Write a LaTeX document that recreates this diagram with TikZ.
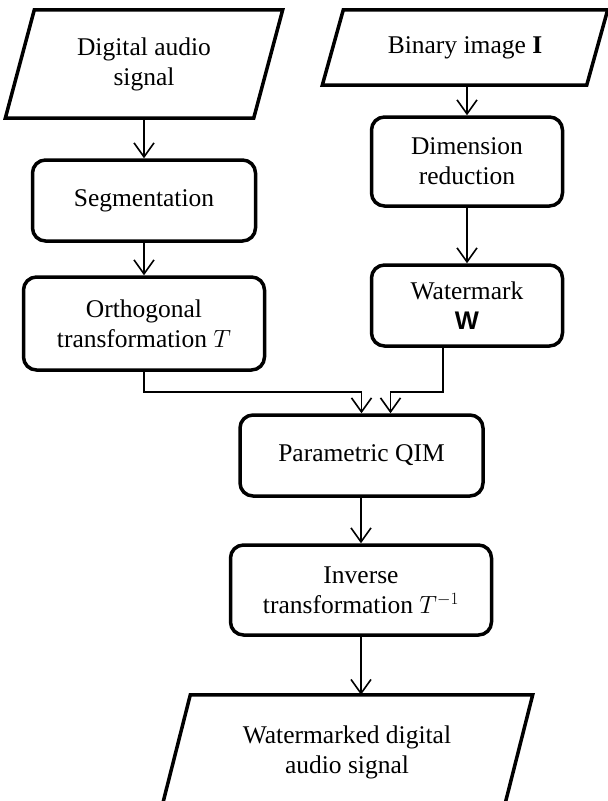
\documentclass[tikz,border=0pt]{standalone}
\usepackage{fontspec}
\setmainfont{Liberation Serif}
\newfontfamily\wfont{Liberation Sans}
\usetikzlibrary{arrows.meta,calc}

\tikzset{
    procbox/.style={draw, line width=3.5pt, rounded corners=13pt, align=center, inner sep=0pt,
        font=\fontsize{25.5}{30}\selectfont},
    iobox/.style={align=center, inner sep=0pt, font=\fontsize{25.5}{30}\selectfont},
    frame/.style={line width=3.5pt},
    flow/.style={line width=1.6pt, -{Straight Barb[length=14pt,width=20pt,line width=1.6pt]}},
}

\begin{document}
\begin{tikzpicture}[x=1pt,y=-1pt]
    \clip (0,0) rectangle (608,801);

    % inputs, steps and output
    \node[iobox, minimum width=248, minimum height=108] (audio) at (144,64) {Digital audio\\signal};
    \node[iobox, minimum width=264, minimum height=75] (binary) at (465,47.5) {Binary image \textbf{I}};
    \node[procbox, minimum width=223, minimum height=81] (seg) at (144,200.5) {Segmentation};
    \node[procbox, minimum width=241, minimum height=93] (orth) at (144,323.5) {Orthogonal\\transformation $T$};
    \node[procbox, minimum width=191, minimum height=89] (dim) at (467,161.5) {Dimension\\reduction};
    \node[procbox, minimum width=191, minimum height=81] (wm) at (467,305.5) {Watermark\\{\wfont\bfseries W}};
    \node[procbox, minimum width=243, minimum height=81] (qim) at (361.5,455.5) {Parametric QIM};
    \node[procbox, minimum width=261, minimum height=90] (inv) at (361,590) {Inverse\\transformation $T^{-1}$};
    \node[iobox, minimum width=342, minimum height=114] (out) at (347,752) {Watermarked digital\\audio signal};

    % slanted frames of the input/output nodes
    \foreach \n/\s in {audio/14.5, binary/10.5, out/14.5}
        \draw[frame] ($(\n.north west)+(\s,0)$) -- ($(\n.north east)+(\s,0)$)
            -- ($(\n.south east)-(\s,0)$) -- ($(\n.south west)-(\s,0)$) -- cycle;

    \draw[flow] (audio.south) -- (seg.north);
    \draw[flow] (seg) -- (orth);
    \draw[flow] (binary.south -| dim.north) -- (dim.north);
    \draw[flow] (dim) -- (wm);
    \draw[flow] (orth.south) -- ++(0,20) -| (qim.north);
    \draw[flow] ([xshift=-24pt]wm.south) |- ($(qim.north)+(29,-21)$) -- ([xshift=29pt]qim.north);
    \draw[flow] (qim.south -| inv.north) -- (inv.north);
    \draw[flow] (inv.south) -- (inv.south |- out.north);
\end{tikzpicture}
\end{document}
